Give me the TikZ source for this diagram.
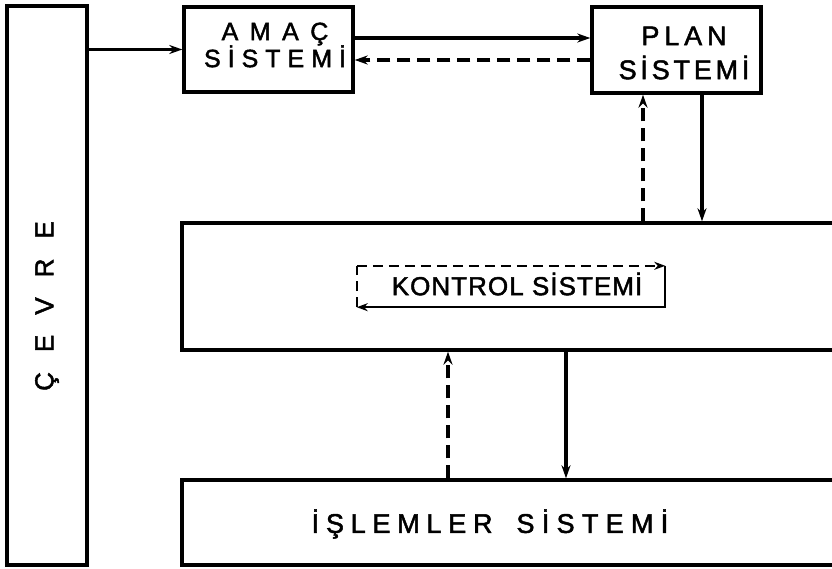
\documentclass[tikz,border=0pt]{standalone}
\usepackage{fontspec}
\setmainfont{Liberation Sans}[FakeBold=1.8]
\usetikzlibrary{arrows.meta}
\newcommand\lsp[2]{{\addfontfeatures{LetterSpace=#1}#2}}
\begin{document}
\begin{tikzpicture}[x=1pt,y=-1pt,
  box/.style={draw, line width=3.4pt, rectangle, inner sep=0pt},
  lbl/.style={inner sep=0pt, align=center},
  conn/.style={line width=3.2pt, -{Stealth[length=13pt,width=9pt]}},
  dconn/.style={conn, dash pattern=on 13pt off 7pt},
  loopline/.style={line width=2.2pt},
  loopdash/.style={loopline, dash pattern=on 10pt off 6pt},
  looptip/.style={-{Stealth[length=11pt,width=8pt]}},
]
\useasboundingbox (0,0) rectangle (832,568);
\fill[white] (0,0) rectangle (832,568);
% boxes
\node[box, minimum width=80pt, minimum height=559pt] (cevre) at (47,285.5) {};
\node[box, minimum width=169pt, minimum height=85pt] (amac) at (268.5,49.5) {};
\node[box, minimum width=169pt, minimum height=86pt] (plan) at (676.5,50) {};
\node[box, minimum width=678pt, minimum height=127pt] (kontrol) at (521,286.5) {};
\node[box, minimum width=678pt, minimum height=85pt] (islem) at (521,522.5) {};
\node[inner sep=0pt, minimum width=308pt, minimum height=41pt] (klp) at (511,286.5) {};
% texts
\node[lbl, rotate=90, font=\fontsize{26}{30}\selectfont] (cevretxt) at (47,306) {\lsp{77}{ÇEVRE}};
\node[lbl, font=\fontsize{25}{27}\selectfont] (amactxt) at (275,45) {\lsp{46}{AMAÇ}\\\lsp{28}{SİSTEMİ}};
\node[lbl, font=\fontsize{27}{34}\selectfont] (plantxt) at (684,53) {\lsp{18}{PLAN}\\\lsp{14}{SİSTEMİ}};
\node[lbl, font=\fontsize{26}{30}\selectfont] (ktxt) at (517,284) {\lsp{4}{KONTROL SİSTEMİ}};
\node[lbl, font=\fontsize{27}{30}\selectfont] (itxt) at (490,524) {\lsp{25}{İŞLEMLER}\hspace{24pt}\lsp{27}{SİSTEMİ}};
% connectors
\draw[conn] (cevre.east |- amac.west) -- (amac.west);
\coordinate (a1) at ([yshift=11.5pt]amac.east);
\coordinate (a2) at ([yshift=-10.5pt]amac.east);
\draw[conn] (a1) -- (a1 -| plan.west);
\draw[dconn] (a2 -| plan.west) -- (a2);
\coordinate (p1) at ([xshift=-33.5pt]plan.south);
\coordinate (p2) at ([xshift=25.5pt]plan.south);
\draw[dconn] (p1 |- kontrol.north) -- (p1);
\draw[conn] (p2) -- (p2 |- kontrol.north);
\coordinate (k1) at (448,0);
\coordinate (k2) at (566,0);
\draw[dconn] (k1 |- islem.north) -- (k1 |- kontrol.south);
\draw[conn] (k2 |- kontrol.south) -- (k2 |- islem.north);
% control loop
\draw[loopdash, looptip] (klp.north west) -- (klp.north east);
\draw[loopline, looptip] (klp.north east) -- (klp.south east) -- (klp.south west);
\draw[loopdash] (klp.south west) -- (klp.north west);
\end{tikzpicture}
\end{document}
